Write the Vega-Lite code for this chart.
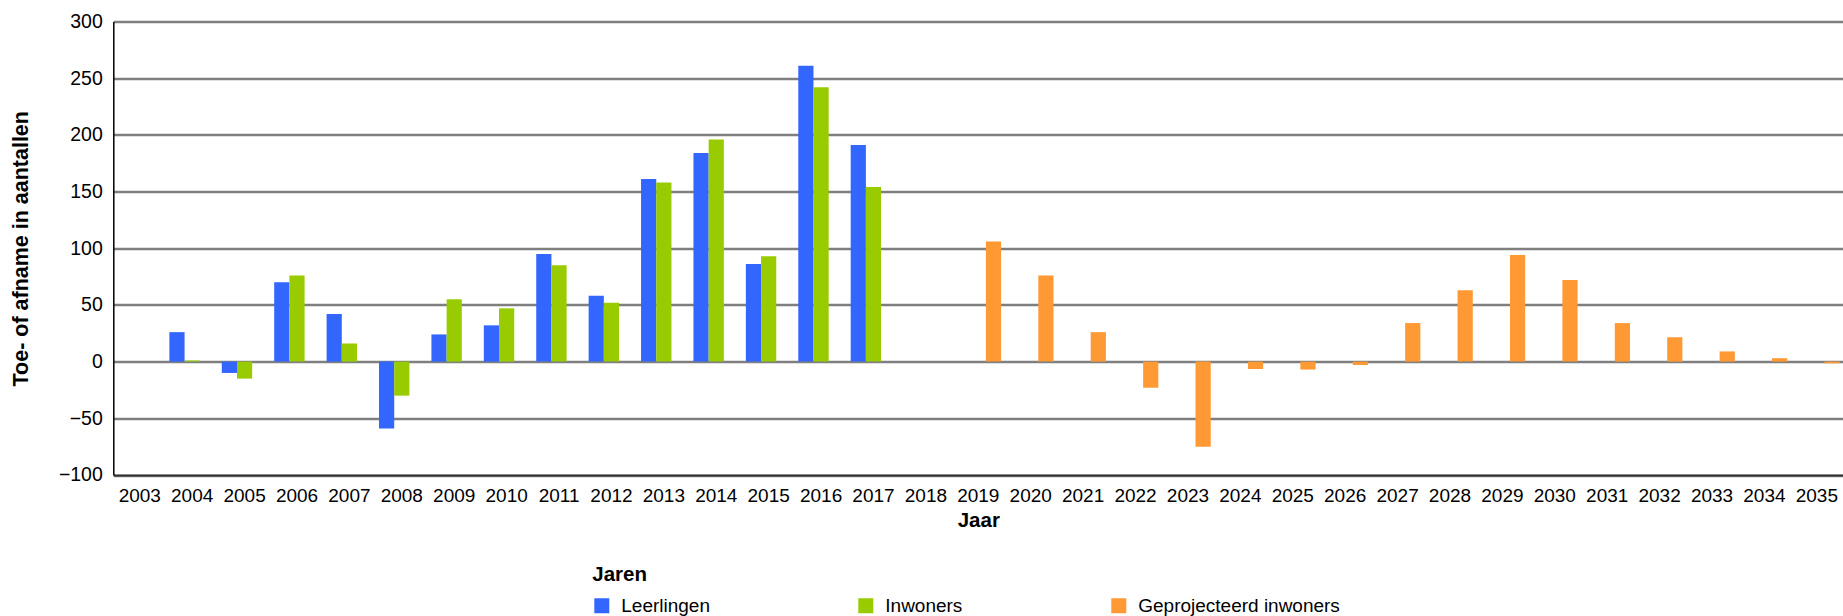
{
  "$schema": "https://vega.github.io/schema/vega-lite/v6.json",
  "autosize": "none",
  "width": 1730,
  "height": 453.5,
  "padding": {"left": 113.3, "top": 21.5, "right": 0, "bottom": 141},
  "background": "white",
  "config": {
    "font": "Liberation Sans",
    "view": {"stroke": null},
    "axis": {"labelFont": "Liberation Sans", "titleFont": "Liberation Sans", "labelColor": "#000", "titleColor": "#000"},
    "legend": {"labelFont": "Liberation Sans", "titleFont": "Liberation Sans"}
  },
  "data": {
    "values": [
      {"jaar": "2003", "serie": "Leerlingen", "waarde": 0},
      {"jaar": "2004", "serie": "Leerlingen", "waarde": 26},
      {"jaar": "2004", "serie": "Inwoners", "waarde": 1},
      {"jaar": "2005", "serie": "Leerlingen", "waarde": -10},
      {"jaar": "2005", "serie": "Inwoners", "waarde": -15},
      {"jaar": "2006", "serie": "Leerlingen", "waarde": 70},
      {"jaar": "2006", "serie": "Inwoners", "waarde": 76},
      {"jaar": "2007", "serie": "Leerlingen", "waarde": 42},
      {"jaar": "2007", "serie": "Inwoners", "waarde": 16},
      {"jaar": "2008", "serie": "Leerlingen", "waarde": -59},
      {"jaar": "2008", "serie": "Inwoners", "waarde": -30},
      {"jaar": "2009", "serie": "Leerlingen", "waarde": 24},
      {"jaar": "2009", "serie": "Inwoners", "waarde": 55},
      {"jaar": "2010", "serie": "Leerlingen", "waarde": 32},
      {"jaar": "2010", "serie": "Inwoners", "waarde": 47},
      {"jaar": "2011", "serie": "Leerlingen", "waarde": 95},
      {"jaar": "2011", "serie": "Inwoners", "waarde": 85},
      {"jaar": "2012", "serie": "Leerlingen", "waarde": 58},
      {"jaar": "2012", "serie": "Inwoners", "waarde": 52},
      {"jaar": "2013", "serie": "Leerlingen", "waarde": 161},
      {"jaar": "2013", "serie": "Inwoners", "waarde": 158},
      {"jaar": "2014", "serie": "Leerlingen", "waarde": 184},
      {"jaar": "2014", "serie": "Inwoners", "waarde": 196},
      {"jaar": "2015", "serie": "Leerlingen", "waarde": 86},
      {"jaar": "2015", "serie": "Inwoners", "waarde": 93},
      {"jaar": "2016", "serie": "Leerlingen", "waarde": 261},
      {"jaar": "2016", "serie": "Inwoners", "waarde": 242},
      {"jaar": "2017", "serie": "Leerlingen", "waarde": 191},
      {"jaar": "2017", "serie": "Inwoners", "waarde": 154},
      {"jaar": "2018", "serie": "Geprojecteerd inwoners", "waarde": 0},
      {"jaar": "2019", "serie": "Geprojecteerd inwoners", "waarde": 106},
      {"jaar": "2020", "serie": "Geprojecteerd inwoners", "waarde": 76},
      {"jaar": "2021", "serie": "Geprojecteerd inwoners", "waarde": 26},
      {"jaar": "2022", "serie": "Geprojecteerd inwoners", "waarde": -23},
      {"jaar": "2023", "serie": "Geprojecteerd inwoners", "waarde": -75},
      {"jaar": "2024", "serie": "Geprojecteerd inwoners", "waarde": -6.5},
      {"jaar": "2025", "serie": "Geprojecteerd inwoners", "waarde": -7},
      {"jaar": "2026", "serie": "Geprojecteerd inwoners", "waarde": -3},
      {"jaar": "2027", "serie": "Geprojecteerd inwoners", "waarde": 34},
      {"jaar": "2028", "serie": "Geprojecteerd inwoners", "waarde": 63},
      {"jaar": "2029", "serie": "Geprojecteerd inwoners", "waarde": 94},
      {"jaar": "2030", "serie": "Geprojecteerd inwoners", "waarde": 72},
      {"jaar": "2031", "serie": "Geprojecteerd inwoners", "waarde": 34},
      {"jaar": "2032", "serie": "Geprojecteerd inwoners", "waarde": 21.5},
      {"jaar": "2033", "serie": "Geprojecteerd inwoners", "waarde": 9},
      {"jaar": "2034", "serie": "Geprojecteerd inwoners", "waarde": 3},
      {"jaar": "2035", "serie": "Geprojecteerd inwoners", "waarde": -1.5}
    ]
  },
  "mark": {"type": "bar", "cornerRadius": 0},
  "encoding": {
    "x": {
      "field": "jaar",
      "type": "ordinal",
      "scale": {"paddingInner": 0.13, "paddingOuter": 0.07},
      "axis": {
        "title": "Jaar",
        "titleFontSize": 20.5,
        "titleFontWeight": "bold",
        "titlePadding": 5,
        "labelAngle": 0,
        "labelFontSize": 19,
        "labelPadding": 12,
        "ticks": false,
        "domainColor": "#333333",
        "domainWidth": 2.2,
        "grid": false
      }
    },
    "xOffset": {
      "field": "serie",
      "type": "nominal",
      "scale": {"domain": ["Leerlingen", "Inwoners", "Geprojecteerd inwoners"], "paddingInner": 0, "paddingOuter": 0}
    },
    "y": {
      "field": "waarde",
      "type": "quantitative",
      "scale": {"domain": [-100, 300], "nice": false, "zero": false},
      "axis": {
        "title": "Toe- of afname in aantallen",
        "titleFontSize": 21.5,
        "titleFontWeight": "bold",
        "titlePadding": 26,
        "values": [-100, -50, 0, 50, 100, 150, 200, 250, 300],
        "labelFontSize": 19.5,
        "labelPadding": 11,
        "ticks": false,
        "domainColor": "#000000",
        "domainWidth": 1.5,
        "grid": true,
        "gridColor": "#7f7f7f",
        "gridWidth": 2.6
      }
    },
    "color": {
      "field": "serie",
      "type": "nominal",
      "scale": {"domain": ["Leerlingen", "Inwoners", "Geprojecteerd inwoners"], "range": ["#3366FF", "#99CC00", "#FF9933"]},
      "legend": {
        "title": "Jaren",
        "orient": "none",
        "legendX": 479,
        "legendY": 544,
        "direction": "horizontal",
        "columns": 3,
        "gridAlign": "each",
        "columnPadding": 146,
        "symbolType": "square",
        "symbolSize": 225,
        "symbolStrokeWidth": 0,
        "labelFontSize": 19,
        "labelLimit": 400,
        "labelOffset": 10,
        "titleFontSize": 20.5,
        "titleFontWeight": "bold",
        "titlePadding": 10,
        "padding": 0
      }
    }
  }
}
